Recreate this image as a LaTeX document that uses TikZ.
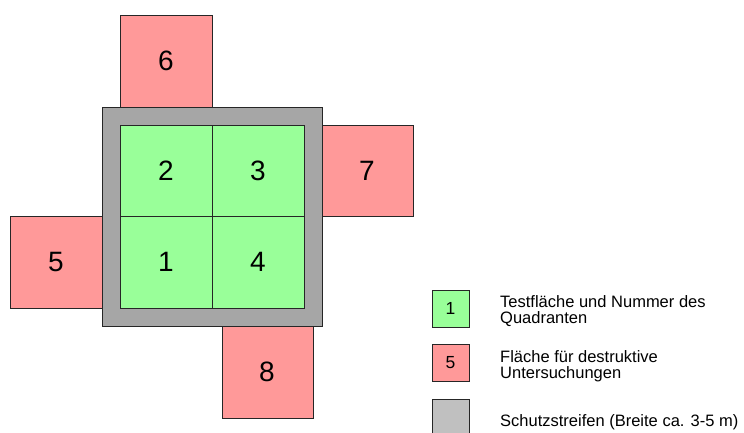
\documentclass[tikz,border=0pt]{standalone}
\usepackage{fontspec}
\setmainfont{Liberation Sans}
\definecolor{testgreen}{HTML}{99FF99}
\definecolor{destrred}{HTML}{FF9999}
\definecolor{stripgray}{HTML}{A6A6A6}
\definecolor{leggray}{HTML}{C0C0C0}
\tikzset{
  feld/.style={draw=black!85,line width=0.8pt},
  zahl/.style={inner sep=0pt,font=\fontsize{28}{32}\selectfont},
  legzahl/.style={inner sep=0pt,font=\fontsize{17.5}{18}\selectfont},
  legtext/.style={anchor=base west,inner sep=0pt,align=left,font=\fontsize{16.5}{16}\selectfont}
}
\begin{document}
\begin{tikzpicture}[x=1pt,y=1pt,yscale=-1,xscale=1]
\clip (0,0) rectangle (744,432);

%Schutzstreifen
\draw [feld,fill=stripgray] (102,107) rectangle (322,326) ;
%Testflaeche
\draw [feld,fill=testgreen] (120,125) rectangle (304,308) ;
\draw [feld] (212,125) -- (212,308) ;
\draw [feld] (120,216) -- (304,216) ;

%destruktive Flaechen
\draw [feld,fill=destrred] (120,15) rectangle (212,107) ;
\draw [feld,fill=destrred] (322,125) rectangle (413,216) ;
\draw [feld,fill=destrred] (10,216) rectangle (102,308) ;
\draw [feld,fill=destrred] (222,326) rectangle (313,418) ;

% Text Node
\node [zahl] (q1) at (166,262) {1};
\node [zahl] (q2) at (166,171) {2};
\node [zahl] (q3) at (258,171) {3};
\node [zahl] (q4) at (258,262) {4};
\node [zahl] (d5) at (56,262) {5};
\node [zahl] (d6) at (166,61) {6};
\node [zahl] (d7) at (367,171) {7};
\node [zahl] (d8) at (267,372) {8};

%Legende
\draw [feld,fill=testgreen] (432,290) rectangle (469,327) ;
\draw [feld,fill=destrred] (432,344) rectangle (469,381) ;
\draw [feld,fill=leggray] (432,399) rectangle (469,440) ;
\node [legzahl] (l1) at (450.5,308.5) {1};
\node [legzahl] (l5) at (450.5,362.5) {5};

% Text Node
\node [legtext] (t1) at (500,323.5) {Testfläche und Nummer des\\Quadranten};
\node [legtext] (t2) at (500,378) {Fläche für destruktive\\Untersuchungen};
\node [legtext] (t3) at (500,426.5) {Schutzstreifen (Breite ca. 3-5 m)};

\end{tikzpicture}
\end{document}
